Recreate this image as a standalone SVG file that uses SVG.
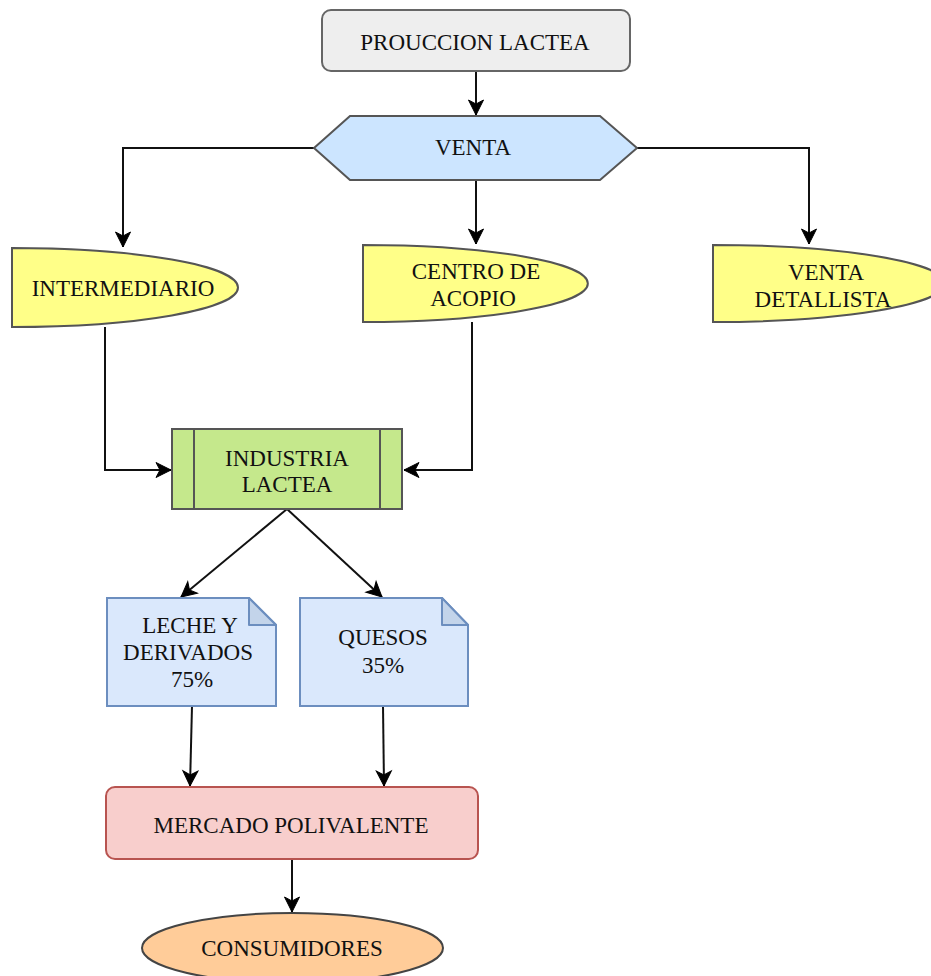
<svg xmlns="http://www.w3.org/2000/svg" width="931" height="976" viewBox="0 0 931 976">
<defs>
<marker id="arr" markerUnits="userSpaceOnUse" markerWidth="16" markerHeight="15" refX="15" refY="7.5" orient="auto" overflow="visible">
<path d="M0,0 L15,7.5 L0,15 L4,7.5 Z" fill="#000" stroke="#000" stroke-width="1" stroke-linejoin="miter"/>
</marker>
</defs>
<style>
text{font-family:"Liberation Serif","Times New Roman",serif;font-size:23px;fill:#111;text-anchor:middle}
.edge{fill:none;stroke:#111;stroke-width:2;marker-end:url(#arr)}
.yel{fill:#ffff88;stroke:#555;stroke-width:2}
</style>
<rect width="931" height="976" fill="#fff"/>
<g id="connectors">
<path class="edge" d="M476,71 L476,115"/>
<path class="edge" d="M314,148 L123,148 L123,247"/>
<path class="edge" d="M476,180 L476,244"/>
<path class="edge" d="M637,148 L809,148 L809,244"/>
<path class="edge" d="M105,327 L105,470 L171,470"/>
<path class="edge" d="M472,322 L472,470 L404,470"/>
<path class="edge" d="M287,509 L181,597"/>
<path class="edge" d="M287,509 L382,597"/>
<path class="edge" d="M192,706 L190,786"/>
<path class="edge" d="M383,706 L384,786"/>
<path class="edge" d="M292,859 L292,912"/>
</g>
<g id="produccion">
<rect x="322" y="10" width="308" height="61" rx="9" fill="#eeeeee" stroke="#666" stroke-width="2"/>
<text x="475" y="50">PROUCCION LACTEA</text>
</g>
<g id="venta">
<path d="M314,148 L350,116 L600,116 L637,148 L600,180 L350,180 Z" fill="#cce5ff" stroke="#555" stroke-width="2"/>
<text x="473" y="155">VENTA</text>
</g>
<g id="intermediario">
<path class="yel" d="M12,248 A226,39.5 0 0 1 12,327 Z"/>
<text x="123" y="296">INTERMEDIARIO</text>
</g>
<g id="centro">
<path class="yel" d="M363,245 A225,38.5 0 0 1 363,322 Z"/>
<text x="476" y="279">CENTRO DE</text>
<text x="473" y="306">ACOPIO</text>
</g>
<g id="detallista">
<path class="yel" d="M713,245 A232,38.5 0 0 1 713,322 Z"/>
<text x="826" y="280">VENTA</text>
<text x="823" y="307">DETALLISTA</text>
</g>
<g id="industria">
<rect x="172" y="429" width="230" height="80" fill="#c5e88c" stroke="#555" stroke-width="2"/>
<line x1="194" y1="429" x2="194" y2="509" stroke="#555" stroke-width="2"/>
<line x1="380" y1="429" x2="380" y2="509" stroke="#555" stroke-width="2"/>
<text x="287" y="466">INDUSTRIA</text>
<text x="287" y="492">LACTEA</text>
</g>
<g id="leche">
<path d="M107,598 L249,598 L276,625 L276,706 L107,706 Z" fill="#dae8fc" stroke="#6c8ebf" stroke-width="2"/>
<path d="M249,598 L249,625 L276,625 Z" fill="#c3d4ea" stroke="#6c8ebf" stroke-width="2" stroke-linejoin="round"/>
<text x="190" y="633">LECHE Y</text>
<text x="188" y="660">DERIVADOS</text>
<text x="192" y="687">75%</text>
</g>
<g id="quesos">
<path d="M300,598 L442,598 L468,625 L468,706 L300,706 Z" fill="#dae8fc" stroke="#6c8ebf" stroke-width="2"/>
<path d="M442,598 L442,625 L468,625 Z" fill="#c3d4ea" stroke="#6c8ebf" stroke-width="2" stroke-linejoin="round"/>
<text x="383" y="645">QUESOS</text>
<text x="383" y="673">35%</text>
</g>
<g id="mercado">
<rect x="106" y="787" width="372" height="72" rx="9" fill="#f8cecc" stroke="#b85450" stroke-width="2"/>
<text x="291" y="833">MERCADO POLIVALENTE</text>
</g>
<g id="consumidores">
<ellipse cx="292.5" cy="948" rx="150.5" ry="35" fill="#ffcc99" stroke="#444" stroke-width="2"/>
<text x="292" y="956">CONSUMIDORES</text>
</g>
</svg>
